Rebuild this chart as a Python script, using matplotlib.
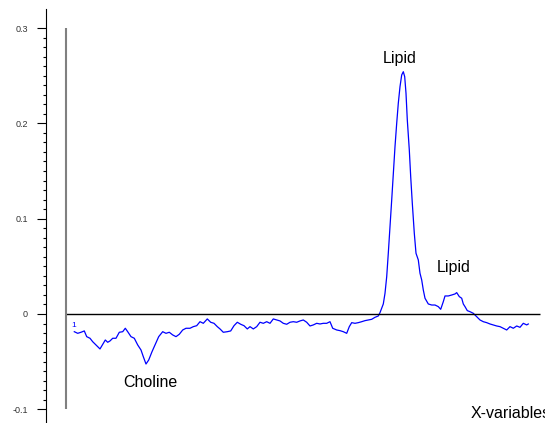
import numpy as np
import matplotlib
matplotlib.use('Agg')
import matplotlib.pyplot as plt
from matplotlib.ticker import FixedLocator

plt.rcParams['font.family'] = ['Liberation Sans', 'DejaVu Sans']

# spectrum (x = variable number, y = loading)
x_var = [8.3, 11.7, 15, 18.3, 20.7, 24, 26.7, 30, 34, 36.7, 39.3, 41.7, 44, 46.7, 50,
         53.3, 56.7, 59.3, 61.7, 65, 68.3, 71.7, 75, 77.3, 80, 82.7, 86, 89.3, 92.7,
         96.7, 100, 103.3, 106.7, 110, 113.3, 116.7, 120, 124, 127.3, 130.7, 134,
         137.3, 141.3, 144.7, 148, 151.3, 154, 157.3, 161.3, 164.7, 168, 171.3, 174.7,
         178, 181.3, 184, 187.3, 190.7, 194, 197.3, 200.7, 204, 207.3, 210.7, 214,
         217.3, 220.7, 224, 227.3, 230.7, 234, 237.3, 240.7, 244, 247.3, 250.7, 254,
         257.3, 260.7, 264, 266.7, 270.7, 274, 277.3, 280.7, 283.3, 285.7, 289, 292.3,
         295.7, 299, 302.3, 305.7, 309, 312.3, 314, 315.7, 317.3, 319, 320.7, 322.3,
         324, 325.7, 327.3, 329, 330.7, 332.3, 334, 335.7, 337.3, 338.7, 340, 341.3,
         343.3, 344.7, 346.3, 348.3, 350, 352.3, 354, 355.7, 357.3, 359, 362.3, 365.7,
         369, 372.3, 374.7, 377.3, 379, 382.3, 385.7, 389, 390.7, 393.3, 395.7, 397.3,
         399, 401.3, 404, 407.3, 410.7, 414, 417.3, 420.7, 424, 427.3, 430.7, 434,
         437.3, 440.7, 444, 447.3, 450.7, 454, 457.3, 460.7, 462.3]
loading = [-0.0186, -0.0203, -0.0192, -0.0178, -0.0238, -0.0255, -0.0291, -0.0325,
           -0.0367, -0.0318, -0.0273, -0.0297, -0.0283, -0.0255, -0.0255, -0.0192,
           -0.0186, -0.0150, -0.0186, -0.0238, -0.0255, -0.0325, -0.0378, -0.0448,
           -0.0525, -0.0483, -0.0396, -0.0318, -0.0238, -0.0186, -0.0203, -0.0192,
           -0.0220, -0.0238, -0.0213, -0.0168, -0.0150, -0.0150, -0.0133, -0.0123,
           -0.0081, -0.0098, -0.0052, -0.0087, -0.0098, -0.0133, -0.0157, -0.0192,
           -0.0186, -0.0178, -0.0123, -0.0087, -0.0108, -0.0123, -0.0157, -0.0133,
           -0.0157, -0.0133, -0.0087, -0.0098, -0.0081, -0.0098, -0.0052, -0.0063,
           -0.0073, -0.0098, -0.0108, -0.0087, -0.0081, -0.0087, -0.0073, -0.0063,
           -0.0087, -0.0126, -0.0115, -0.0098, -0.0105, -0.0098, -0.0098, -0.0081,
           -0.0150, -0.0168, -0.0175, -0.0186, -0.0203, -0.0133, -0.0091, -0.0098,
           -0.0091, -0.0081, -0.0070, -0.0063, -0.0056, -0.0035, -0.0021, 0.0014,
           0.0060, 0.0105, 0.0217, 0.0391, 0.0637, 0.0916, 0.1196, 0.1476, 0.1756,
           0.2001, 0.2211, 0.2385, 0.2508, 0.2542, 0.2490, 0.2316, 0.2036, 0.1721,
           0.1441, 0.1162, 0.0847, 0.0637, 0.0567, 0.0427, 0.0357, 0.0252, 0.0165,
           0.0105, 0.0094, 0.0094, 0.0077, 0.0049, 0.0129, 0.0189, 0.0189, 0.0199,
           0.0210, 0.0224, 0.0182, 0.0165, 0.0105, 0.0077, 0.0035, 0.0024, 0.0007,
           -0.0028, -0.0063, -0.0081, -0.0091, -0.0105, -0.0115, -0.0126, -0.0133,
           -0.0150, -0.0168, -0.0133, -0.0150, -0.0126, -0.0140, -0.0098, -0.0115,
           -0.0105]

y_ticks = [-0.1, 0, 0.1, 0.2, 0.3]
y_ticklabels = ['-0.1', '0', '0.1', '0.2', '0.3']

peak_names = ['Lipid', 'Lipid', 'Choline']
peak_x = [334, 388, 84]
peak_y = [0.260, 0.041, -0.080]

fig = plt.figure(figsize=(5.45, 4.23), dpi=100)
ax = fig.add_axes([46 / 545, 0, 1 - 46 / 545, 414 / 423])

ax.plot(x_var, loading, color='#0000ff', lw=0.9)
ax.text(x_var[0] - 2.5, loading[0] + 0.006, '1', color='#0000ff', fontsize=6,
        ha='left', va='center')

# zero line and gray axis line
ax.hlines(0, 0, x_var[-1] + 12, color='black', lw=1)
ax.vlines(0, y_ticks[0], y_ticks[-1], color='#808080', lw=1.5)

for name, px, py in zip(peak_names, peak_x, peak_y):
    ax.text(px, py, name, fontsize=11.5, ha='center', va='bottom')

ax.text(405, -0.1091, 'X-variables', fontsize=11.5, ha='left', va='baseline')

ax.set_xlim(-20, 479)
ax.set_ylim(-0.1144, 0.32)

ax.yaxis.set_major_locator(FixedLocator(y_ticks))
ax.set_yticklabels(y_ticklabels)
ax.yaxis.set_minor_locator(FixedLocator(np.arange(-0.1, 0.3, 0.01)))
ax.tick_params(axis='y', which='major', length=6.5, width=0.8, pad=6.5,
               labelsize=6.5, labelcolor='#333333')
ax.tick_params(axis='y', which='minor', length=2.5, width=0.8)
ax.set_xticks([])

for s in ['top', 'right', 'bottom']:
    ax.spines[s].set_visible(False)
ax.spines['left'].set_linewidth(0.8)

fig.savefig('out.png', dpi=100)
